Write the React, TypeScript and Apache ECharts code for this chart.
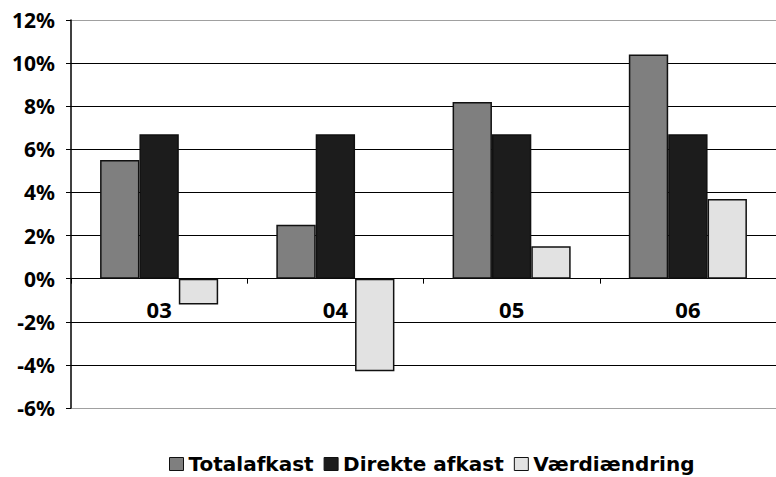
import React, { useEffect, useRef } from "react";
import * as echarts from "echarts";

// Years on the category axis
const categories = ["03", "04", "05", "06"];

// Returns per year, in percent
const totalafkast = [5.5, 2.5, 8.2, 10.4];
const direkteAfkast = [6.7, 6.7, 6.7, 6.7];
const vaerdiaendring = [-1.2, -4.3, 1.5, 3.7];

const seriesNames = ["Totalafkast", "Direkte afkast", "Værdiændring"];

const AXIS_FONT = "'Noto Sans', 'DejaVu Sans', sans-serif";
const LEGEND_FONT = "'DejaVu Sans', 'Noto Sans', sans-serif";

export default function App() {
  const ref = useRef<HTMLDivElement>(null);

  useEffect(() => {
    if (!ref.current) return;
    const chart = echarts.init(ref.current, null, { renderer: "svg" });

    const barStyle = (color: string) => ({
      color,
      borderColor: "#111",
      borderWidth: 1.5,
    });

    // outer lines (12% / -6%) are grey, inner ones black
    const gridColors = [
      "#a0a0a0", "#000", "#000", "#000", "#000",
      "#000", "#000", "#000", "#000", "#a0a0a0",
    ];

    const gridTop = 20;
    const gridBottom = 69;
    const plotHeight = 477 - gridTop - gridBottom;
    // distance from the plot's bottom edge up to the 0% line
    const zeroOffset = (plotHeight * 6) / 18;

    chart.setOption({
      animation: false,
      backgroundColor: "#fff",
      grid: { left: 71, top: gridTop, bottom: gridBottom, width: 716, containLabel: false },
      legend: {
        left: 164,
        top: 448,
        itemWidth: 14,
        itemHeight: 13,
        itemGap: 10,
        icon: "rect",
        data: seriesNames,
        itemStyle: { borderColor: "#111", borderWidth: 1 },
        textStyle: {
          fontFamily: LEGEND_FONT,
          fontWeight: "bold",
          fontSize: 20,
          lineHeight: 22,
          color: "#000",
        },
      },
      xAxis: [
        {
          type: "category",
          data: categories,
          axisLine: { onZero: true, lineStyle: { color: "#000", width: 1 } },
          axisTick: { show: true, alignWithLabel: false, length: 5, lineStyle: { color: "#000" } },
          axisLabel: { show: false },
          splitLine: { show: false },
        },
        {
          // year labels sitting just below the 0% line
          type: "category",
          data: categories,
          position: "bottom",
          offset: -zeroOffset,
          axisLine: { show: false },
          axisTick: { show: false },
          axisLabel: {
            margin: 19,
            fontFamily: AXIS_FONT,
            fontWeight: "bold",
            fontSize: 22,
            color: "#000",
          },
          splitLine: { show: false },
        },
      ],
      yAxis: {
        type: "value",
        min: -6,
        max: 12,
        interval: 2,
        axisLine: { show: true, lineStyle: { color: "#000", width: 1.5 } },
        axisTick: { show: true, length: 5, lineStyle: { color: "#000" } },
        axisLabel: {
          margin: 16,
          fontFamily: AXIS_FONT,
          fontWeight: "bold",
          fontSize: 21,
          color: "#000",
          formatter: (v: number) => `${v}%`,
        },
        splitLine: { show: true, lineStyle: { color: gridColors, width: 1.2 } },
      },
      series: [
        {
          name: seriesNames[0],
          type: "bar",
          xAxisIndex: 0,
          data: totalafkast,
          barGap: "0%",
          barCategoryGap: "33%",
          itemStyle: barStyle("#7f7f7f"),
        },
        {
          name: seriesNames[1],
          type: "bar",
          xAxisIndex: 0,
          data: direkteAfkast,
          itemStyle: barStyle("#1c1c1c"),
        },
        {
          name: seriesNames[2],
          type: "bar",
          xAxisIndex: 0,
          data: vaerdiaendring,
          itemStyle: barStyle("#e2e2e2"),
        },
      ],
    });

    return () => chart.dispose();
  }, []);

  return (
    <div
      ref={ref}
      style={{ position: "absolute", left: 0, top: 0, width: 776, height: 477, overflow: "hidden" }}
    />
  );
}
